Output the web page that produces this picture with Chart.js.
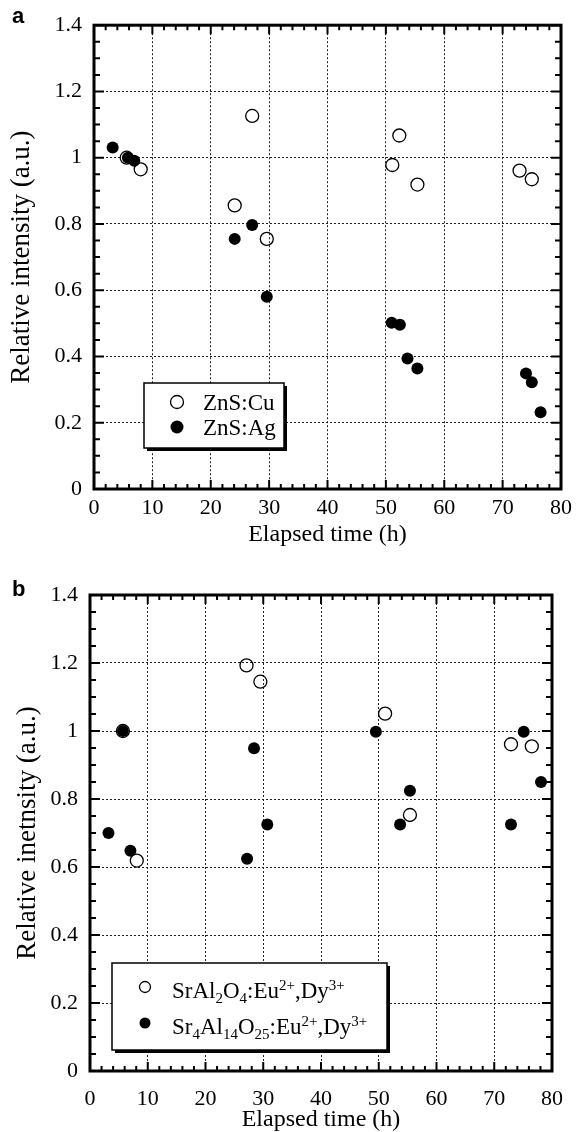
<!DOCTYPE html>
<html>
<head>
<meta charset="utf-8">
<script src="https://cdn.jsdelivr.net/npm/chart.js@4.4.0/dist/chart.umd.min.js"></script>
<style>
body { margin: 0; background: #fff; }
canvas { position: absolute; left: 0; }
#panelA { top: 0; }
#panelB { top: 566px; }
</style>
</head>
<body>
<canvas id="panelA" width="578" height="560"></canvas>
<canvas id="panelB" width="578" height="566"></canvas>
<script>
// panel a : ZnS phosphors
const cuTime = [5.6, 8.0, 24.1, 27.1, 29.6, 51.1, 52.3, 55.4, 72.9, 75.0];
const cuIntensity = [1.0, 0.965, 0.856, 1.126, 0.755, 0.978, 1.067, 0.919, 0.961, 0.935];
const agTime = [3.2, 5.8, 6.9, 24.1, 27.1, 29.6, 51.0, 52.4, 53.7, 55.4, 74.0, 75.0, 76.5];
const agIntensity = [1.031, 1.0, 0.991, 0.755, 0.797, 0.580, 0.502, 0.496, 0.394, 0.364, 0.349, 0.322, 0.232];

// panel b : aluminate phosphors
const sraTime = [5.7, 8.1, 27.1, 29.5, 51.1, 55.4, 72.9, 76.5];
const sraIntensity = [1.0, 0.619, 1.193, 1.145, 1.051, 0.753, 0.961, 0.955];
const sr4Time = [3.2, 5.7, 7.0, 27.2, 28.4, 30.7, 49.5, 53.7, 55.4, 72.9, 75.1, 78.1];
const sr4Intensity = [0.700, 1.0, 0.648, 0.624, 0.949, 0.725, 0.998, 0.725, 0.824, 0.725, 0.998, 0.85];

// axes
const xRange = [0, 80];
const xMajor = 10, xMinor = 2;
const yRange = [0, 1.4];
const yMajor = 0.2, yMinor = 0.05;

const serif = '"Liberation Serif", "Times New Roman", serif';

function points(xs, ys) {
    return xs.map((v, i) => ({ x: v, y: ys[i] }));
}

// frame + inward ticks on all four sides, legend box, panel letter
const paperPlugin = {
    id: 'paper',
    afterDatasetsDraw(chart) {
        const { ctx, chartArea: a, scales: { x, y } } = chart;
        ctx.save();
        ctx.strokeStyle = '#000';
        ctx.lineWidth = 2;
        ctx.beginPath();
        const nx = Math.round((xRange[1] - xRange[0]) / xMinor);
        for (let i = 0; i <= nx; i++) {
            const v = xRange[0] + i * xMinor;
            const px = x.getPixelForValue(v);
            const len = (i % (xMajor / xMinor) === 0) ? 9 : 5;
            ctx.moveTo(px, a.bottom); ctx.lineTo(px, a.bottom - len);
            ctx.moveTo(px, a.top); ctx.lineTo(px, a.top + len);
        }
        const ny = Math.round((yRange[1] - yRange[0]) / yMinor);
        for (let i = 0; i <= ny; i++) {
            const v = yRange[0] + i * yMinor;
            const py = y.getPixelForValue(v);
            const len = (i % Math.round(yMajor / yMinor) === 0) ? 10 : 6;
            ctx.moveTo(a.left, py); ctx.lineTo(a.left + len, py);
            ctx.moveTo(a.right, py); ctx.lineTo(a.right - len, py);
        }
        ctx.stroke();
        ctx.lineWidth = 3;
        ctx.strokeRect(a.left, a.top, a.width, a.height);
        ctx.restore();
    },
    afterDraw(chart, args, opts) {
        const ctx = chart.ctx;
        const b = opts.box;
        ctx.save();
        // letter
        ctx.fillStyle = '#000';
        ctx.font = 'bold 22px "Liberation Sans", Arial, sans-serif';
        ctx.textBaseline = 'alphabetic';
        ctx.fillText(opts.letter, opts.letterPos[0], opts.letterPos[1]);
        // legend box with shadow
        ctx.fillRect(b.x + 3, b.y + 3, b.w, b.h);
        ctx.fillStyle = '#fff';
        ctx.fillRect(b.x, b.y, b.w, b.h);
        ctx.strokeStyle = '#000';
        ctx.lineWidth = 1.5;
        ctx.strokeRect(b.x, b.y, b.w, b.h);
        opts.entries.forEach((e, i) => {
            const my = b.y + opts.rowY[i];
            const mx = b.x + opts.markerX;
            ctx.beginPath();
            ctx.arc(mx, my, opts.markerR, 0, Math.PI * 2);
            if (e.filled) {
                ctx.fillStyle = '#000';
                ctx.fill();
            } else {
                ctx.lineWidth = 1.3;
                ctx.stroke();
            }
            let tx = b.x + opts.textX;
            const base = my + opts.baseShift;
            ctx.fillStyle = '#000';
            e.parts.forEach(p => {
                const text = p[0], kind = p[1] || 'n';
                let size = opts.fontSize, dy = 0;
                if (kind === 'sub') { size = opts.smallSize; dy = 5; }
                if (kind === 'sup') { size = opts.smallSize; dy = -8; }
                ctx.font = size + 'px ' + serif;
                ctx.fillText(text, tx, base + dy);
                tx += ctx.measureText(text).width;
            });
        });
        ctx.restore();
    }
};

function makePanel(id, layout, series, yTitle, legend) {
    const ctx = document.getElementById(id).getContext('2d');
    return new Chart(ctx, {
        type: 'scatter',
        data: {
            datasets: [{
                label: series[1].label,
                data: points(series[1].x, series[1].y),
                pointRadius: 6,
                pointBorderWidth: 0,
                backgroundColor: '#000',
                borderColor: '#000',
                order: 0
            }, {
                label: series[0].label,
                data: points(series[0].x, series[0].y),
                pointRadius: 6.5,
                pointBorderWidth: 1.3,
                backgroundColor: 'rgba(255,255,255,0)',
                borderColor: '#000',
                order: 1
            }]
        },
        options: {
            responsive: false,
            devicePixelRatio: 1,
            animation: false,
            events: [],
            layout: { padding: { left: 0, right: layout.right, top: layout.top, bottom: 0 } },
            plugins: {
                legend: { display: false },
                tooltip: { enabled: false },
                paper: legend
            },
            scales: {
                x: {
                    type: 'linear',
                    min: xRange[0],
                    max: xRange[1],
                    afterFit: s => { s.height = layout.xHeight; },
                    ticks: {
                        stepSize: xMajor,
                        color: '#000',
                        padding: layout.xTickPad,
                        font: { family: serif, size: 22 }
                    },
                    grid: { color: '#222', lineWidth: 1, drawTicks: false },
                    border: { display: false, dash: [2, 2] },
                    title: {
                        display: true,
                        text: 'Elapsed time (h)',
                        color: '#000',
                        font: { family: serif, size: 24, lineHeight: 1 },
                        padding: { top: 0, bottom: layout.xTitlePad }
                    }
                },
                y: {
                    type: 'linear',
                    min: yRange[0],
                    max: yRange[1],
                    afterFit: s => { s.width = layout.yWidth; },
                    ticks: {
                        stepSize: yMajor,
                        color: '#000',
                        padding: 12,
                        font: { family: serif, size: 22 },
                        callback: v => String(Number(v.toFixed(1)))
                    },
                    grid: { color: '#222', lineWidth: 1, drawTicks: false },
                    border: { display: false, dash: [2, 2] },
                    title: {
                        display: true,
                        text: yTitle,
                        color: '#000',
                        font: { family: serif, size: 27, lineHeight: 1 },
                        padding: { top: layout.yTitlePad, bottom: 0 }
                    }
                }
            }
        },
        plugins: [paperPlugin]
    });
}

document.addEventListener('DOMContentLoaded', () => {
    makePanel('panelA',
        { right: 16, top: 23, xHeight: 71, yWidth: 94, xTickPad: 6, xTitlePad: 13, yTitlePad: 8.5 },
        [{ label: 'ZnS:Cu', x: cuTime, y: cuIntensity },
         { label: 'ZnS:Ag', x: agTime, y: agIntensity }],
        'Relative intensity (a.u.)',
        {
            letter: 'a', letterPos: [12, 23],
            box: { x: 144, y: 383, w: 140, h: 65 },
            markerX: 33, textX: 59, rowY: [19, 44], baseShift: 8, markerR: 6.5,
            fontSize: 23, smallSize: 15,
            entries: [
                { filled: false, parts: [['ZnS:Cu']] },
                { filled: true, parts: [['ZnS:Ag']] }
            ]
        });

    makePanel('panelB',
        { right: 13, top: 29, xHeight: 61, yWidth: 90, xTickPad: 15, xTitlePad: 0, yTitlePad: 14.5 },
        [{ label: 'SrAl2O4:Eu2+,Dy3+', x: sraTime, y: sraIntensity },
         { label: 'Sr4Al14O25:Eu2+,Dy3+', x: sr4Time, y: sr4Intensity }],
        'Relative inetnsity (a.u.)',
        {
            letter: 'b', letterPos: [12, 30],
            box: { x: 112, y: 397, w: 275, h: 87 },
            markerX: 33, textX: 60, rowY: [24, 60], baseShift: 11, markerR: 5.5,
            fontSize: 23, smallSize: 15,
            entries: [
                { filled: false, parts: [['SrAl'], ['2', 'sub'], ['O'], ['4', 'sub'], [':Eu'], ['2+', 'sup'], [',Dy'], ['3+', 'sup']] },
                { filled: true, parts: [['Sr'], ['4', 'sub'], ['Al'], ['14', 'sub'], ['O'], ['25', 'sub'], [':Eu'], ['2+', 'sup'], [',Dy'], ['3+', 'sup']] }
            ]
        });
});
</script>
</body>
</html>
